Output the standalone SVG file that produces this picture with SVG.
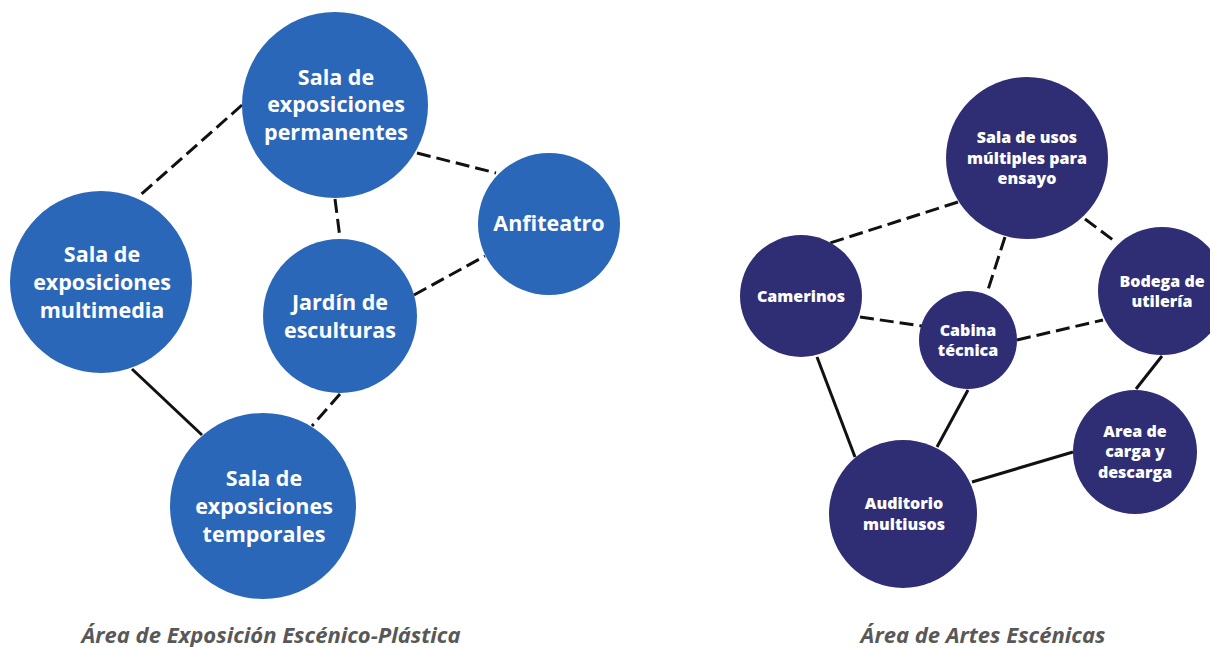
<svg xmlns="http://www.w3.org/2000/svg" width="1210" height="647" viewBox="0 0 1210 647">
<style>
.bl{fill:#2B67B9}
.nv{fill:#2F2E74}
.tl{font-family:"Open Sans","Liberation Sans",sans-serif;font-weight:700;font-size:21.5px;fill:#fff;text-anchor:middle}
.tr{font-family:"Open Sans","Liberation Sans",sans-serif;font-weight:800;font-size:16px;fill:#fff;text-anchor:middle}
.cap{font-family:"Open Sans","Liberation Sans",sans-serif;font-weight:700;font-style:italic;font-size:22px;fill:#585858;text-anchor:middle}
.d{stroke:#111;stroke-width:3;stroke-dasharray:14 6;fill:none}
.s{stroke:#111;stroke-width:3;fill:none}
</style>
<rect width="1210" height="647" fill="#fff"/>
<g id="connectors">
<line class="d" x1="242" y1="105" x2="138" y2="197"/>
<line class="d" x1="417" y1="153" x2="496" y2="173"/>
<line class="d" x1="335" y1="199" x2="340" y2="238"/>
<line class="d" x1="414" y1="295" x2="485" y2="256"/>
<line class="s" x1="132" y1="369" x2="202" y2="435"/>
<line class="d" x1="340" y1="394" x2="312" y2="426"/>
<line class="d" x1="958" y1="202" x2="830" y2="243"/>
<line class="d" x1="1005" y1="237" x2="987" y2="293"/>
<line class="d" x1="1085" y1="219" x2="1117" y2="243"/>
<line class="d" x1="860" y1="317" x2="922" y2="326"/>
<line class="d" x1="1017" y1="340" x2="1103" y2="320"/>
<line class="s" x1="817" y1="357" x2="855" y2="457"/>
<line class="s" x1="968" y1="390" x2="937" y2="447"/>
<line class="s" x1="1162" y1="356" x2="1136" y2="389"/>
<line class="s" x1="1073" y1="452" x2="972" y2="482"/>
</g>
<g id="permanentes">
<circle class="bl" cx="335" cy="105" r="93"/>
<text class="tl" x="336" y="85">Sala de</text>
<text class="tl" x="336" y="112">exposiciones</text>
<text class="tl" x="336" y="140">permanentes</text>
</g>
<g id="anfiteatro">
<circle class="bl" cx="549" cy="224" r="71"/>
<text class="tl" x="549" y="231">Anfiteatro</text>
</g>
<g id="multimedia">
<circle class="bl" cx="101" cy="282" r="91"/>
<text class="tl" x="102" y="262">Sala de</text>
<text class="tl" x="102" y="290">exposiciones</text>
<text class="tl" x="102" y="318">multimedia</text>
</g>
<g id="jardin">
<circle class="bl" cx="340" cy="316" r="77"/>
<text class="tl" x="340" y="310">Jardín de</text>
<text class="tl" x="340" y="338">esculturas</text>
</g>
<g id="temporales">
<circle class="bl" cx="263" cy="506" r="93"/>
<text class="tl" x="264" y="486">Sala de</text>
<text class="tl" x="264" y="514">exposiciones</text>
<text class="tl" x="264" y="542">temporales</text>
</g>
<g id="usos">
<circle class="nv" cx="1027" cy="158" r="81"/>
<text class="tr" x="1027" y="143">Sala de usos</text>
<text class="tr" x="1027" y="164">múltiples para</text>
<text class="tr" x="1027" y="184">ensayo</text>
</g>
<g id="camerinos">
<circle class="nv" cx="801" cy="296" r="61"/>
<text class="tr" x="801" y="302">Camerinos</text>
</g>
<g id="cabina">
<circle class="nv" cx="968" cy="340" r="49"/>
<text class="tr" x="968" y="336">Cabina</text>
<text class="tr" x="968" y="356">técnica</text>
</g>
<g id="bodega">
<circle class="nv" cx="1162" cy="291" r="64"/>
<text class="tr" x="1162" y="287">Bodega de</text>
<text class="tr" x="1162" y="307">utilería</text>
</g>
<g id="carga">
<circle class="nv" cx="1135" cy="452" r="62"/>
<text class="tr" x="1135" y="437">Area de</text>
<text class="tr" x="1135" y="457">carga y</text>
<text class="tr" x="1135" y="478">descarga</text>
</g>
<g id="auditorio">
<circle class="nv" cx="903" cy="514" r="74"/>
<text class="tr" x="904" y="509">Auditorio</text>
<text class="tr" x="904" y="530">multiusos</text>
</g>
<text class="cap" x="271" y="643">Área de Exposición Escénico-Plástica</text>
<text class="cap" x="983" y="643">Área de Artes Escénicas</text>
</svg>
